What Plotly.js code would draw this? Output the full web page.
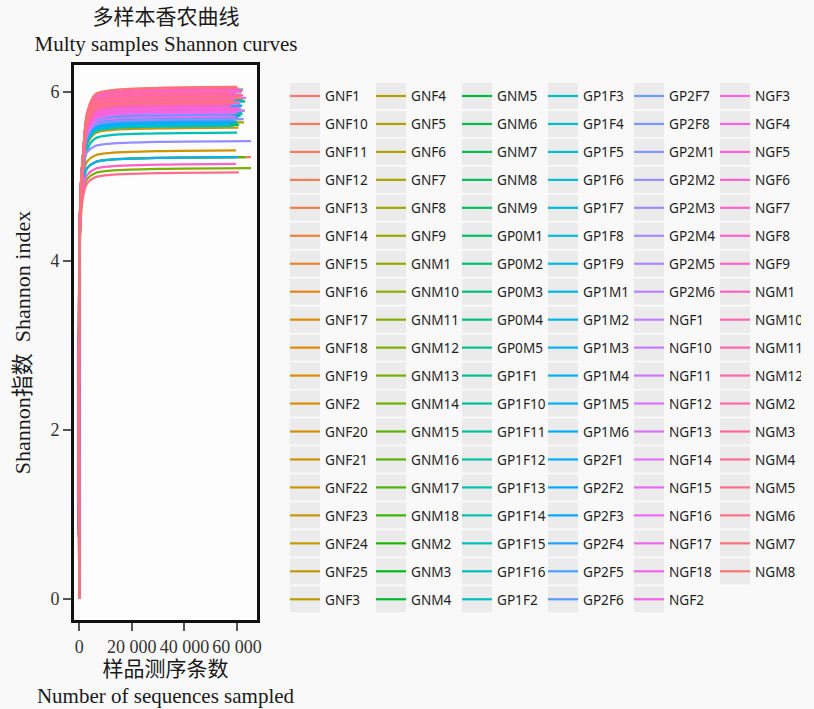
<!DOCTYPE html>
<html><head><meta charset="utf-8">
<script src="https://cdn.plot.ly/plotly-3.0.1.min.js"></script>
<style>html,body{margin:0;padding:0;background:#f9f9f9}</style>
</head><body><div id="chart" style="width:814px;height:709px"></div>
<script>
const sampleNames = ["GNF1","GNF10","GNF11","GNF12","GNF13","GNF14","GNF15","GNF16","GNF17","GNF18","GNF19","GNF2","GNF20","GNF21","GNF22","GNF23","GNF24","GNF25","GNF3","GNF4","GNF5","GNF6","GNF7","GNF8","GNF9",
"GNM1","GNM10","GNM11","GNM12","GNM13","GNM14","GNM15","GNM16","GNM17","GNM18","GNM2","GNM3","GNM4","GNM5","GNM6","GNM7","GNM8","GNM9",
"GP0M1","GP0M2","GP0M3","GP0M4","GP0M5",
"GP1F1","GP1F10","GP1F11","GP1F12","GP1F13","GP1F14","GP1F15","GP1F16","GP1F2","GP1F3","GP1F4","GP1F5","GP1F6","GP1F7","GP1F8","GP1F9",
"GP1M1","GP1M2","GP1M3","GP1M4","GP1M5","GP1M6",
"GP2F1","GP2F2","GP2F3","GP2F4","GP2F5","GP2F6","GP2F7","GP2F8",
"GP2M1","GP2M2","GP2M3","GP2M4","GP2M5","GP2M6",
"NGF1","NGF10","NGF11","NGF12","NGF13","NGF14","NGF15","NGF16","NGF17","NGF18","NGF2","NGF3","NGF4","NGF5","NGF6","NGF7","NGF8","NGF9",
"NGM1","NGM10","NGM11","NGM12","NGM2","NGM3","NGM4","NGM5","NGM6","NGM7","NGM8"];

// sequencing depths sampled (shared grid) and final depth of each sample
const depthGrid = [1, 500, 1500, 3000, 6000, 12000, 30000];
const depthEnd = [58500,65300,57000,59800,56400,60900,58000,61500,57800,62300,
59100,60200,57300,61000,59600,58700,60500,62000,56900,59400,
61800,58200,60000,57600,62600,58900,61200,57100,65300,60600,
59000,63300,61600,57500,63100,60100,58400,62200,62800,59300,
61400,57900,60800,59700,62400,58100,60300,62100,57400,59900,
61300,56800,60400,58600,60000,61900,57700,59500,62700,58300,
60700,57200,61100,59200,58800,60900,60300,61700,58600,59800,
57500,60500,62000,58900,61600,59100,57800,60600,62500,65300,
58200,60800,59400,61300,57000,60200,62900,58500,59700,61800,
57300,63400,60100,58800,61400,59000,62100,57700,60400,58300,
59600,61000,59500,57600,60700,58100,62400,59900,57200,60700,
61200,58700,60000];

// Shannon index at each depth (depthGrid + final depth)
const shannonValues = [
[0,4.78,5.23,5.63,5.80,5.85,5.87,5.88],
[0,4.63,4.95,5.10,5.17,5.20,5.22,5.23],
[0,4.69,5.14,5.54,5.71,5.76,5.78,5.79],
[0,4.83,5.28,5.68,5.85,5.90,5.92,5.93],
[0,4.76,5.21,5.51,5.64,5.68,5.70,5.71],
[0,4.74,5.19,5.59,5.76,5.81,5.83,5.84],
[0,4.71,5.16,5.46,5.59,5.63,5.65,5.66],
[0,4.72,5.17,5.67,5.88,5.93,5.96,5.97],
[0,4.65,5.10,5.50,5.67,5.72,5.74,5.75],
[0,4.80,5.25,5.65,5.82,5.87,5.89,5.90],
[0,4.67,5.12,5.42,5.55,5.59,5.61,5.62],
[0,4.71,5.16,5.56,5.73,5.78,5.80,5.81],
[0,4.74,5.19,5.49,5.62,5.66,5.68,5.69],
[0,4.76,5.21,5.61,5.78,5.83,5.85,5.86],
[0,4.71,5.03,5.18,5.25,5.28,5.30,5.31],
[0,4.67,5.12,5.52,5.69,5.74,5.76,5.77],
[0,4.63,5.08,5.38,5.51,5.55,5.57,5.58],
[0,4.82,5.27,5.67,5.84,5.89,5.91,5.92],
[0,4.78,5.23,5.53,5.66,5.70,5.72,5.73],
[0,4.73,5.18,5.58,5.75,5.80,5.82,5.83],
[0,4.73,5.18,5.48,5.61,5.65,5.67,5.68],
[0,4.70,5.15,5.65,5.86,5.91,5.94,5.95],
[0,4.79,5.24,5.54,5.67,5.71,5.73,5.74],
[0,4.77,5.22,5.62,5.79,5.84,5.86,5.87],
[0,4.69,5.14,5.44,5.57,5.61,5.63,5.64],
[0,4.70,5.15,5.55,5.72,5.77,5.79,5.80],
[0,4.81,5.26,5.66,5.83,5.88,5.90,5.91],
[0,4.75,5.20,5.50,5.63,5.67,5.69,5.70],
[0,4.50,4.82,4.97,5.04,5.07,5.09,5.10],
[0,4.75,5.20,5.60,5.77,5.82,5.84,5.85],
[0,4.72,5.17,5.47,5.60,5.64,5.66,5.67],
[0,4.63,4.95,5.10,5.17,5.20,5.22,5.23],
[0,4.71,5.16,5.66,5.87,5.92,5.95,5.96],
[0,4.66,5.11,5.51,5.68,5.73,5.75,5.76],
[0,4.79,5.24,5.64,5.81,5.86,5.88,5.89],
[0,4.68,5.13,5.43,5.56,5.60,5.62,5.63],
[0,4.72,5.17,5.57,5.74,5.79,5.81,5.82],
[0,4.78,5.23,5.73,5.94,5.99,6.02,6.03],
[0,4.68,5.13,5.53,5.70,5.75,5.77,5.78],
[0,4.84,5.29,5.69,5.86,5.91,5.93,5.94],
[0,4.77,5.22,5.52,5.65,5.69,5.71,5.72],
[0,4.76,5.21,5.61,5.78,5.83,5.85,5.86],
[0,4.66,5.11,5.41,5.54,5.58,5.60,5.61],
[0,4.69,5.14,5.54,5.71,5.76,5.78,5.79],
[0,4.80,5.25,5.65,5.82,5.87,5.89,5.90],
[0,4.73,5.18,5.48,5.61,5.65,5.67,5.68],
[0,4.74,5.19,5.59,5.76,5.81,5.83,5.84],
[0,4.79,5.24,5.54,5.67,5.71,5.73,5.74],
[0,4.82,5.27,5.67,5.84,5.89,5.91,5.92],
[0,4.70,5.15,5.45,5.58,5.62,5.64,5.65],
[0,4.70,5.15,5.55,5.72,5.77,5.79,5.80],
[0,4.76,5.21,5.51,5.64,5.68,5.70,5.71],
[0,4.77,5.22,5.62,5.79,5.84,5.86,5.87],
[0,4.65,5.10,5.40,5.53,5.57,5.59,5.60],
[0,4.57,5.02,5.32,5.45,5.49,5.51,5.52],
[0,4.66,5.11,5.51,5.68,5.73,5.75,5.76],
[0,4.73,5.18,5.58,5.75,5.80,5.82,5.83],
[0,4.74,5.19,5.49,5.62,5.66,5.68,5.69],
[0,4.79,5.24,5.64,5.81,5.86,5.88,5.89],
[0,4.78,5.23,5.53,5.66,5.70,5.72,5.73],
[0,4.76,5.21,5.61,5.78,5.83,5.85,5.86],
[0,4.67,5.12,5.42,5.55,5.59,5.61,5.62],
[0,4.68,5.13,5.53,5.70,5.75,5.77,5.78],
[0,4.70,5.15,5.65,5.86,5.91,5.94,5.95],
[0,4.72,5.17,5.47,5.60,5.64,5.66,5.67],
[0,4.71,5.16,5.56,5.73,5.78,5.80,5.81],
[0,4.63,4.95,5.10,5.17,5.20,5.22,5.23],
[0,4.79,5.24,5.54,5.67,5.71,5.73,5.74],
[0,4.78,5.23,5.63,5.80,5.85,5.87,5.88],
[0,4.69,5.14,5.44,5.57,5.61,5.63,5.64],
[0,4.69,5.14,5.54,5.71,5.76,5.78,5.79],
[0,4.75,5.20,5.50,5.63,5.67,5.69,5.70],
[0,4.74,5.19,5.59,5.76,5.81,5.83,5.84],
[0,4.71,5.16,5.46,5.59,5.63,5.65,5.66],
[0,4.67,5.12,5.52,5.69,5.74,5.76,5.77],
[0,4.81,5.26,5.66,5.83,5.88,5.90,5.91],
[0,4.77,5.22,5.52,5.65,5.69,5.71,5.72],
[0,4.75,5.20,5.60,5.77,5.82,5.84,5.85],
[0,4.73,5.18,5.48,5.61,5.65,5.67,5.68],
[0,4.82,5.14,5.29,5.36,5.39,5.41,5.42],
[0,4.70,5.15,5.55,5.72,5.77,5.79,5.80],
[0,4.83,5.28,5.68,5.85,5.90,5.92,5.93],
[0,4.65,5.10,5.50,5.67,5.72,5.74,5.75],
[0,4.77,5.22,5.62,5.79,5.84,5.86,5.87],
[0,4.73,5.18,5.58,5.75,5.80,5.82,5.83],
[0,4.71,5.16,5.66,5.87,5.92,5.95,5.96],
[0,4.68,5.13,5.53,5.70,5.75,5.77,5.78],
[0,4.80,5.25,5.65,5.82,5.87,5.89,5.90],
[0,4.76,5.21,5.51,5.64,5.68,5.70,5.71],
[0,4.75,5.20,5.70,5.91,5.96,5.99,6.00],
[0,4.75,5.20,5.60,5.77,5.82,5.84,5.85],
[0,4.83,5.28,5.68,5.85,5.90,5.92,5.93],
[0,4.66,5.11,5.51,5.68,5.73,5.75,5.76],
[0,4.72,5.17,5.67,5.88,5.93,5.96,5.97],
[0,4.71,5.16,5.56,5.73,5.78,5.80,5.81],
[0,4.82,5.27,5.67,5.84,5.89,5.91,5.92],
[0,4.77,5.22,5.72,5.93,5.98,6.01,6.02],
[0,4.76,5.21,5.61,5.78,5.83,5.85,5.86],
[0,4.69,5.14,5.54,5.71,5.76,5.78,5.79],
[0,4.70,5.15,5.65,5.86,5.91,5.94,5.95],
[0,4.55,4.87,5.02,5.09,5.12,5.14,5.15],
[0,4.78,5.23,5.63,5.80,5.85,5.87,5.88],
[0,4.73,5.18,5.68,5.89,5.94,5.97,5.98],
[0,4.74,5.19,5.59,5.76,5.81,5.83,5.84],
[0,4.79,5.24,5.74,5.95,6.00,6.03,6.04],
[0,4.81,5.26,5.66,5.83,5.88,5.90,5.91],
[0,4.71,5.16,5.66,5.87,5.92,5.95,5.96],
[0,4.77,5.22,5.62,5.79,5.84,5.86,5.87],
[0,4.75,5.20,5.70,5.91,5.96,5.99,6.00],
[0,4.45,4.77,4.92,4.99,5.02,5.04,5.05],
[0,4.84,5.29,5.69,5.86,5.91,5.93,5.94],
[0,4.79,5.24,5.64,5.81,5.86,5.88,5.89],
[0,4.81,5.26,5.76,5.97,6.02,6.05,6.06]
];

const xTickVals = [0, 20000, 40000, 60000];
const xTickText = ["0", "20 000", "40 000", "60 000"];
const yTickVals = [0, 2, 4, 6];
const yTickText = ["0", "2", "4", "6"];

// ggplot-like hue palette (HCL, c=100, l=65)
function hcl(h, c, l) {
  const hr = h * Math.PI / 180;
  const U = c * Math.cos(hr), V = c * Math.sin(hr);
  const Xn = 95.047, Yn = 100, Zn = 108.883;
  const Y = Yn * Math.pow((l + 16) / 116, 3);
  const den = Xn + 15 * Yn + 3 * Zn;
  const un = 4 * Xn / den, vn = 9 * Yn / den;
  const u = U / (13 * l) + un, v = V / (13 * l) + vn;
  const X = Y * 9 * u / (4 * v);
  const Z = Y * (12 - 3 * u - 20 * v) / (4 * v);
  const x = X / 100, y = Y / 100, z = Z / 100;
  const lin = [
    3.2404542 * x - 1.5371385 * y - 0.4985314 * z,
    -0.9692660 * x + 1.8760108 * y + 0.0415560 * z,
    0.0556434 * x - 0.2040259 * y + 1.0572252 * z];
  return '#' + lin.map(c => {
    let g = c <= 0.0031308 ? 12.92 * c : 1.055 * Math.pow(c, 1 / 2.4) - 0.055;
    g = Math.max(0, Math.min(1, g));
    return Math.round(g * 255).toString(16).padStart(2, '0');
  }).join('');
}
const n = sampleNames.length;
const colors = sampleNames.map((_, i) => hcl(15 + 360 * i / n, 100, 65));
const rowsPerCol = 19, nCols = 6;

const traces = sampleNames.map((name, i) => ({
  type: 'scatter', mode: 'lines',
  x: depthGrid.concat([depthEnd[i]]),
  y: shannonValues[i],
  name: '<span style="font-size:13.6px;baseline-shift:2.5px">' + name + '</span>',
  legendrank: (i % rowsPerCol) * nCols + Math.floor(i / rowsPerCol) + 1,
  line: { color: colors[i], width: 2.2, shape: 'spline', smoothing: 1 },
  hoverinfo: 'skip'
}));

const serif = '"Liberation Serif", "Noto Sans CJK SC", serif';
const ML = 74, MT = 65, PW = 560, PH = 555, AXW = 183;

const layout = {
  width: 814, height: 709,
  paper_bgcolor: '#f9f9f9', plot_bgcolor: '#fdfdfd',
  margin: { l: ML, r: 814 - ML - PW, t: MT, b: 709 - MT - PH },
  showlegend: true,
  title: {
    text: '多样本香农曲线<br>Multy samples Shannon curves',
    font: { family: serif, size: 21, color: '#1a1a1a' },
    xref: 'container', x: 166 / 814, xanchor: 'center',
    yref: 'container', y: 1 - 24 / 709, yanchor: 'top'
  },
  xaxis: {
    domain: [0, AXW / PW],
    range: [-2000, 67570],
    tickvals: xTickVals, ticktext: xTickText, tickangle: 0,
    ticks: 'outside', ticklen: 8, tickwidth: 2, tickcolor: '#555',
    showline: true, mirror: true, linecolor: '#111', linewidth: 3,
    showgrid: false, zeroline: false,
    tickfont: { family: serif, size: 18, color: '#333' },
    title: { text: '样品测序条数<br>Number of sequences sampled', font: { family: serif, size: 21, color: '#1a1a1a' }, standoff: 6 }
  },
  yaxis: {
    range: [-0.2485, 6.32],
    tickvals: yTickVals, ticktext: yTickText,
    ticks: 'outside', ticklen: 8, tickwidth: 2, tickcolor: '#555',
    showline: true, mirror: true, linecolor: '#111', linewidth: 3,
    showgrid: false, zeroline: false,
    tickfont: { family: serif, size: 18, color: '#333' },
    title: { text: 'Shannon指数\u2002Shannon index', font: { family: serif, size: 22, color: '#1a1a1a' }, standoff: 14 }
  },
  legend: {
    orientation: 'h', entrywidth: 41, entrywidthmode: 'pixels',
    x: (285 - ML) / PW, xanchor: 'left',
    y: 1 - (77 - MT) / PH, yanchor: 'top',
    bgcolor: 'rgba(0,0,0,0)', borderwidth: 0,
    font: { family: '"Noto Sans", "Open Sans", sans-serif', size: 19.2, color: '#1f1f1f' },
    maxheight: 1, traceorder: 'normal'
  }
};

const gd = document.getElementById('chart');
Plotly.newPlot(gd, traces, layout, { staticPlot: true, displayModeBar: false }).then(() => {
  const root = gd.getBoundingClientRect();
  const s = gd._fullLayout._size;
  const shapes = [];
  gd.querySelectorAll('.legend .traces').forEach(t => {
    const p = t.querySelector('.legendlines path');
    if (!p) return;
    const r = p.getBoundingClientRect();
    const cx = r.left + r.width / 2 - root.left, cy = r.top + r.height / 2 - root.top;
    const w = 30, h = 26;
    shapes.push({
      type: 'rect', xref: 'paper', yref: 'paper', layer: 'below',
      x0: (cx - w / 2 - s.l) / s.w, x1: (cx + w / 2 - s.l) / s.w,
      y0: 1 - (cy + h / 2 - s.t) / s.h, y1: 1 - (cy - h / 2 - s.t) / s.h,
      fillcolor: '#ebebeb', line: { width: 0 }
    });
  });
  return Plotly.relayout(gd, { shapes: shapes });
});
</script></body></html>
